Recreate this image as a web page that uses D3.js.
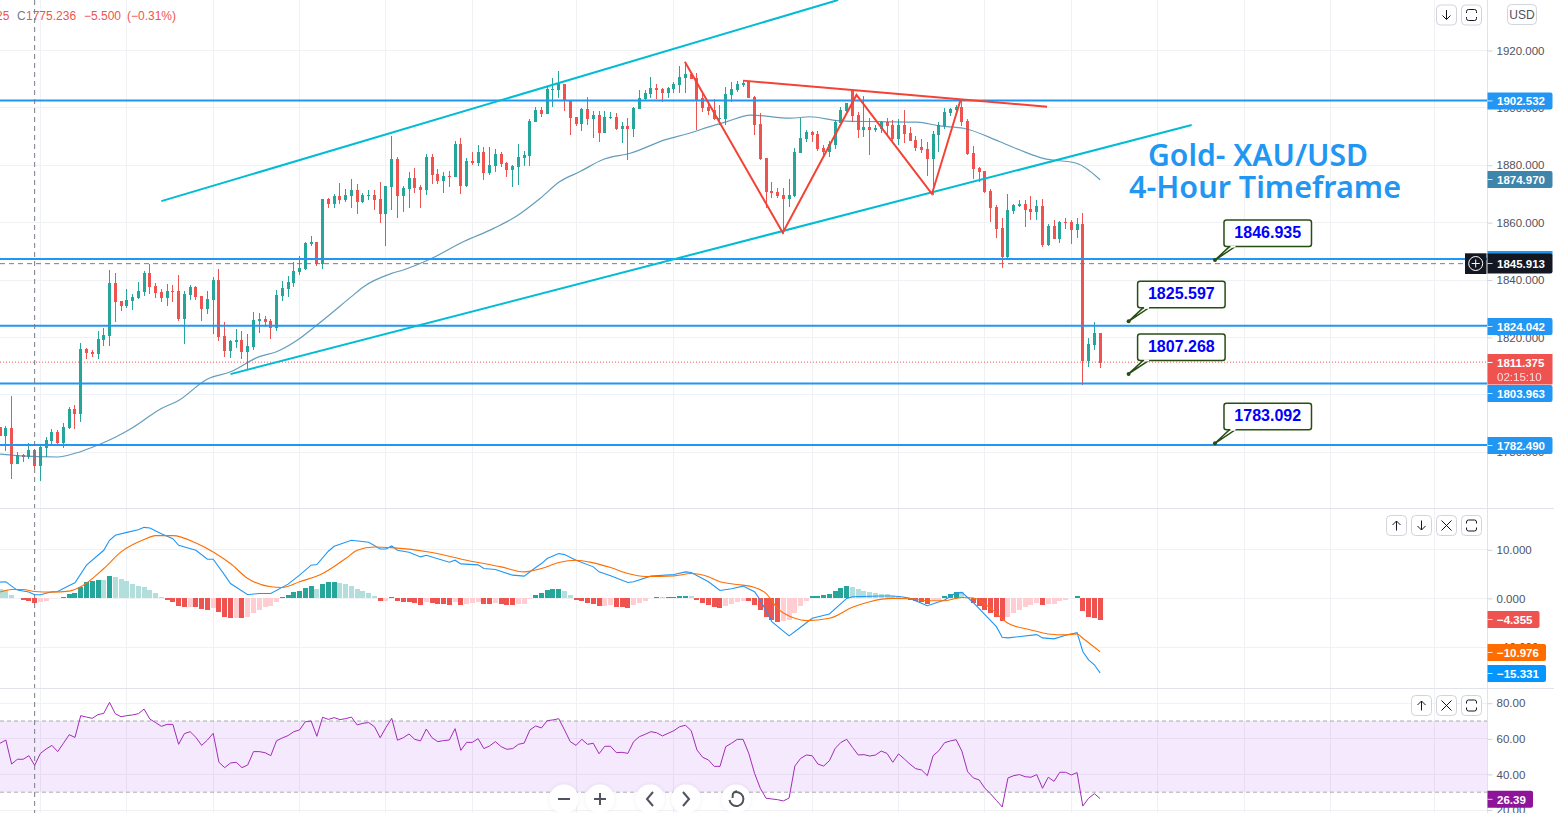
<!DOCTYPE html>
<html>
<head>
<meta charset="utf-8">
<title>Gold XAU/USD 4-Hour</title>
<script src="https://cdn.jsdelivr.net/npm/d3@7"></script>
<style>
  html, body { margin: 0; padding: 0; background: #fff; overflow: hidden; }
  svg { display: block; font-family: "Liberation Sans", Arial, sans-serif; }
</style>
</head>
<body>
<div id="chart"></div>
<script>
// Candles
const opens = [
  1788.9,1785.6,1788.4,1775.7,1778.9,1778.4,1780.8,1775.0,1781.5,1783.9,
  1787.0,1783.1,1788.4,1795.1,1793.3,1815.9,1814.8,1814.2,1819.1,1820.5,
  1839.0,1832.7,1830.9,1832.7,1833.7,1835.8,1842.5,1837.9,1835.8,1833.7,
  1836.2,1836.2,1826.4,1834.8,1837.6,1834.4,1829.9,1833.1,1840.0,1820.5,
  1815.3,1818.4,1819.1,1814.9,1816.7,1825.7,1826.4,1825.7,1823.3,1834.4,
  1836.9,1839.0,1842.8,1843.9,1852.6,1853.3,1845.6,1868.3,1866.5,1869.3,
  1867.9,1869.3,1871.4,1867.2,1869.4,1869.6,1868.3,1863.0,1872.4,1882.2,
  1869.3,1871.7,1875.6,1872.4,1871.4,1882.9,1877.0,1874.5,1876.3,1875.9,
  1887.4,1872.8,1881.5,1880.8,1884.6,1877.3,1879.7,1883.9,1880.8,1878.4,
  1879.4,1882.5,1883.2,1895.1,1899.3,1897.9,1906.2,1906.2,1908.3,1902.8,
  1896.8,1894.4,1899.6,1896.1,1897.5,1891.3,1896.5,1896.8,1892.7,1893.7,
  1892.7,1899.6,1903.1,1904.9,1906.9,1906.6,1905.2,1906.6,1908.0,1910.4,
  1911.8,1910.4,1903.5,1900.3,1899.3,1896.1,1896.1,1904.5,1906.2,1908.0,
  1909.0,1903.8,1894.4,1882.5,1871.0,1870.7,1869.6,1868.2,1869.3,1884.3,
  1889.2,1891.6,1890.9,1886.0,1884.6,1887.1,1894.7,1898.9,1906.2,1897.5,
  1892.3,1893.3,1892.3,1892.6,1895.1,1894.0,1889.2,1894.0,1891.2,1888.8,
  1886.4,1885.7,1882.2,1890.5,1893.7,1898.2,1899.3,1900.3,1895.4,1884.3,
  1879.0,1878.0,1871.0,1865.4,1858.1,1848.0,1864.1,1865.8,1866.5,1864.8,
  1863.7,1865.8,1852.2,1858.8,1854.3,1860.2,1860.2,1857.4,1859.5,1811.8,
  1817.4,1821.5
];
const closes = [
  1785.6,1788.4,1775.7,1778.9,1778.4,1780.8,1775.0,1781.9,1784.3,1787.0,
  1783.1,1788.8,1795.1,1793.3,1816.0,1814.7,1814.2,1819.5,1820.9,1839.0,
  1832.4,1830.9,1833.1,1834.1,1836.2,1842.5,1837.6,1835.5,1833.7,1836.2,
  1836.0,1826.4,1835.1,1837.6,1834.1,1829.9,1833.4,1840.0,1820.2,1815.3,
  1818.8,1819.1,1814.9,1817.0,1826.1,1826.4,1825.4,1823.3,1834.8,1837.2,
  1839.3,1843.2,1844.2,1852.9,1853.3,1845.6,1868.3,1866.5,1869.3,1867.9,
  1869.6,1871.4,1867.2,1869.6,1869.6,1867.9,1863.0,1872.8,1882.2,1869.3,
  1872.1,1875.6,1872.1,1871.4,1882.9,1876.6,1874.5,1876.3,1876.0,1887.4,
  1872.8,1881.5,1880.8,1884.6,1877.3,1880.1,1883.9,1880.4,1878.4,1879.7,
  1882.9,1883.6,1895.4,1899.3,1897.9,1906.6,1906.6,1908.7,1902.4,1896.5,
  1894.4,1899.6,1896.1,1897.5,1891.3,1896.8,1896.8,1892.7,1893.7,1892.7,
  1900.0,1903.5,1905.2,1906.9,1906.2,1905.2,1906.9,1908.3,1910.8,1911.8,
  1910.1,1902.8,1900.0,1898.9,1896.1,1896.5,1904.9,1906.6,1908.3,1908.7,
  1903.5,1894.0,1882.2,1870.7,1870.3,1869.3,1868.2,1869.6,1884.6,1889.5,
  1891.6,1890.5,1885.7,1884.6,1887.4,1895.1,1899.3,1901.7,1897.2,1892.3,
  1893.3,1892.3,1893.0,1895.1,1893.7,1889.2,1894.0,1890.9,1888.5,1886.0,
  1885.3,1882.2,1890.9,1894.0,1898.6,1899.6,1900.3,1895.1,1883.9,1878.7,
  1877.6,1870.7,1865.1,1857.8,1848.0,1864.4,1866.1,1866.5,1864.4,1863.7,
  1865.8,1852.2,1858.8,1854.3,1860.2,1859.9,1857.4,1859.5,1811.8,1817.7,
  1821.5,1811.1
];
const highs = [
  1788.9,1789.1,1799.4,1780.1,1779.4,1783.1,1781.0,1782.2,1785.2,1788.0,
  1787.7,1790.1,1795.9,1796.5,1818.1,1816.2,1815.6,1822.2,1823.3,1843.5,
  1842.5,1832.7,1836.9,1835.1,1839.3,1843.2,1845.6,1839.0,1836.9,1838.6,
  1838.3,1841.8,1836.2,1838.3,1837.9,1834.4,1836.2,1841.1,1843.9,1825.4,
  1819.1,1822.9,1822.2,1821.2,1828.9,1828.5,1827.5,1826.4,1836.5,1839.7,
  1841.4,1846.3,1848.4,1853.3,1855.4,1853.3,1868.3,1868.6,1870.0,1873.8,
  1871.7,1875.2,1873.5,1870.3,1871.4,1871.4,1874.2,1872.8,1890.2,1882.9,
  1872.8,1877.7,1879.1,1873.1,1883.9,1883.9,1878.7,1877.7,1878.0,1888.5,
  1889.5,1882.5,1884.6,1887.1,1886.4,1886.4,1885.7,1884.6,1881.1,1880.1,
  1887.4,1885.0,1896.1,1900.3,1900.3,1907.6,1910.4,1912.9,1908.3,1902.8,
  1896.8,1900.0,1903.8,1898.9,1898.9,1898.9,1898.6,1898.2,1895.1,1896.5,
  1900.3,1906.2,1906.2,1910.8,1908.3,1906.9,1907.3,1909.0,1914.6,1915.7,
  1912.2,1912.2,1905.2,1902.8,1903.1,1901.0,1907.3,1909.0,1909.4,1909.7,
  1909.0,1904.2,1898.2,1882.5,1874.2,1872.1,1872.1,1875.2,1886.0,1896.5,
  1892.3,1891.9,1891.9,1887.1,1888.5,1895.8,1900.3,1901.7,1906.2,1898.6,
  1904.1,1896.5,1894.0,1895.4,1896.5,1895.8,1896.1,1899.3,1893.3,1890.2,
  1889.2,1888.1,1891.9,1895.1,1900.0,1900.0,1901.0,1902.7,1896.1,1886.7,
  1879.4,1878.0,1871.7,1866.1,1861.6,1870.0,1866.5,1867.9,1867.9,1869.3,
  1867.9,1868.2,1859.5,1860.9,1860.6,1861.6,1860.9,1861.6,1863.4,1819.8,
  1825.4,1821.5
];
const lows = [
  1785.6,1780.5,1770.7,1775.7,1776.4,1777.7,1774.5,1770.1,1778.4,1782.9,
  1782.9,1781.6,1788.1,1788.1,1790.6,1812.5,1813.2,1812.5,1817.0,1817.0,
  1825.4,1829.2,1830.3,1829.6,1833.4,1834.4,1835.1,1833.7,1832.4,1830.9,
  1832.4,1825.7,1817.7,1833.1,1833.1,1825.7,1828.2,1821.2,1818.8,1813.2,
  1812.8,1816.3,1812.5,1809.0,1815.6,1821.6,1823.6,1819.5,1822.2,1832.7,
  1834.1,1837.6,1841.8,1843.5,1851.9,1844.9,1843.9,1865.1,1865.1,1866.5,
  1867.2,1865.1,1863.0,1866.9,1867.9,1864.4,1859.9,1851.9,1864.4,1861.6,
  1863.7,1865.1,1870.3,1865.1,1869.6,1873.5,1873.5,1870.3,1872.4,1875.9,
  1870.0,1872.4,1880.1,1879.7,1874.9,1876.6,1877.7,1879.4,1875.9,1872.4,
  1873.1,1879.7,1879.7,1895.1,1896.8,1897.9,1900.3,1903.5,1898.9,1890.6,
  1893.7,1892.0,1894.0,1889.5,1888.1,1891.3,1896.1,1892.3,1887.8,1881.8,
  1889.9,1899.6,1902.4,1903.5,1903.1,1902.1,1903.5,1905.2,1905.2,1905.2,
  1910.1,1892.3,1898.6,1897.5,1895.8,1894.0,1894.0,1902.1,1905.5,1907.3,
  1903.5,1890.6,1881.8,1865.1,1868.6,1868.6,1856.0,1865.4,1868.9,1884.3,
  1888.1,1888.1,1885.0,1882.5,1882.9,1885.7,1894.7,1898.2,1895.1,1889.5,
  1889.8,1883.6,1891.6,1891.2,1890.5,1888.5,1887.1,1887.8,1888.5,1885.0,
  1884.3,1876.3,1869.6,1884.6,1892.6,1897.2,1898.9,1893.7,1883.6,1875.2,
  1874.2,1870.3,1860.2,1854.6,1844.2,1847.7,1863.0,1865.4,1858.5,1860.9,
  1860.9,1851.5,1851.9,1854.3,1852.9,1857.8,1852.6,1854.6,1803.4,1809.7,
  1815.6,1809.3
];

// Moving average, [candle, price] at the bends of the line
const maPoints = [
  [0,1779.3],[3.5,1778.7],[10,1778.3],[13,1779.6],[17,1782.5],[20,1785.2],[23,1788.5],[28,1795.2],
  [31,1798],[36,1805.5],[40,1808],[45,1813.3],[48,1815],[51.5,1818.9],[55,1824.3],[61,1834.2],
  [63,1837.5],[68,1842.3],[70,1843.5],[74.7,1847.3],[80.5,1853.4],[85.7,1858],[89.7,1862.3],
  [93.8,1868.5],[97.2,1874.3],[100.7,1877.8],[104.8,1882.1],[109.4,1884.2],[115.7,1889],
  [119.2,1890.9],[123.8,1893.8],[126.2,1895.2],[130.3,1897.5],[137.2,1896.4],[140.6,1896.9],
  [145.9,1895.5],[152.8,1895.2],[159.2,1895],[163.2,1893.7],[167.3,1892.9],[173.6,1888.2],
  [178.2,1884.4],[181.1,1882.4],[186.9,1880.7],[191,1874.97]
];

// MACD histogram, one value per candle
const macdHist = [
  1.84,1.71,0.68,0.07,-0.34,-0.55,-0.89,-0.68,-0.48,0.07,
  0.03,0.27,0.89,1.09,2.39,3.35,3.55,3.76,3.72,4.58,
  4.37,3.96,3.55,2.94,2.53,2.32,1.71,1.09,0.27,-0.34,
  -0.75,-1.57,-1.78,-1.71,-1.78,-2.19,-2.39,-1.98,-2.80,-3.83,
  -4.03,-3.96,-4.03,-3.83,-3.01,-2.39,-1.78,-1.57,-0.75,0.27,
  0.68,1.30,1.50,2.12,2.53,1.91,2.94,3.35,3.42,3.14,
  2.94,2.53,1.91,1.50,1.09,0.48,-0.55,-0.48,0.27,-0.55,
  -0.75,-0.82,-0.96,-1.37,-0.75,-0.96,-1.16,-1.23,-1.37,-0.75,
  -1.37,-1.16,-0.96,-0.75,-1.16,-1.23,-0.96,-1.16,-1.37,-1.43,
  -1.23,-1.16,-0.07,0.68,1.09,1.71,1.91,1.98,1.50,0.68,
  -0.34,-0.55,-0.89,-1.16,-1.57,-1.50,-1.43,-1.78,-1.85,-1.98,
  -1.37,-0.96,-0.55,0.03,0.27,0.24,0.27,0.30,0.48,0.55,
  0.48,-0.34,-0.96,-1.37,-1.78,-1.98,-1.57,-1.16,-0.75,-0.55,
  -0.62,-1.37,-2.39,-3.83,-4.45,-4.86,-4.66,-4.45,-3.01,-1.57,
  -0.55,0.48,0.55,0.68,0.89,1.50,2.12,2.53,2.32,1.91,
  1.50,1.30,1.09,0.96,0.89,0.48,0.20,0.07,-0.34,-0.55,
  -0.75,-1.23,-0.41,-0.34,0.48,0.89,1.30,1.23,0.20,-0.96,
  -1.57,-2.39,-3.01,-3.83,-4.66,-3.83,-3.01,-2.39,-1.78,-1.37,
  -0.96,-1.37,-1.23,-1.16,-0.55,-0.34,0.02,0.48,-2.60,-3.83,
  -4.03,-4.355
];

const macdLine = [
  [0,3.35],[1,3.42],[2,2.53],[3,1.71],[5,1.30],[6,0.75],[7,0.75],[9,1.37],[10,1.43],[12,2.66],[13,3.21],
  [15,6.83],[18,9.90],[19,11.95],[20,12.98],[22,13.59],[24,14.14],[25,14.62],[26,14.48],[28,13.32],
  [30,12.30],[31,10.93],[34,9.90],[36,8.06],[37,8.06],[39,4.78],[40,3.07],[43,0.75],[45,1.02],[47,1.02],
  [50,2.94],[52,4.78],[54,6.83],[55,6.97],[57,9.70],[58,10.72],[61,11.95],[64,11.54],[66,10.18],[67,10.18],
  [68,10.79],[69,9.90],[71,9.49],[73,8.54],[74,8.88],[78,7.45],[79,7.86],[80,7.10],[83,6.90],[84,6.15],
  [86,5.94],[89,4.78],[91,4.58],[93,6.35],[94,7.17],[95,8.20],[97,9.22],[98,9.02],[100,7.86],[103,6.49],
  [104,5.46],[106,4.64],[109,3.28],[110,3.42],[113,4.58],[117,4.92],[119,5.46],[120,5.33],[123,3.42],
  [125,1.64],[127,1.98],[129,2.53],[131,1.37],[132,-0.34],[134,-4.78],[137,-7.72],[139,-5.94],[141,-4.10],
  [144,-3.21],[147,0],[148,0.34],[153,0.48],[155,0.48],[156.5,0.34],[158,0],[161,-1.50],[164,-0.34],
  [166,1.16],[167,1.23],[169,-0.89],[173,-5.81],[174,-7.99],[175,-8.13],[180,-7.45],[181,-8.13],[183,-8.33],
  [185,-7.58],[187,-7.04],[188,-10.93],[189,-12.64],[190,-13.66],[191,-15.331]
];
const signalLine = [
  [0,1.30],[2,1.84],[4,1.84],[6,1.43],[9,1.30],[12,1.50],[14,2.39],[18,6.15],[21,9.56],[25,12.1],[27,12.91],
  [30,12.91],[34,11.4],[37,9.56],[40,7.17],[43,4.10],[47,2.39],[49,2.25],[52,3.42],[56,5.12],[60,8.20],
  [62,9.90],[65,10.59],[68,10.45],[75,9.43],[81,7.86],[87,6.49],[91,5.46],[94,6.15],[97,7.38],[100,7.86],
  [103,7.31],[106,6.35],[109,5.12],[112,4.51],[117,4.64],[120,5.12],[123,4.44],[125,3.42],[128,2.87],
  [131,2.25],[133,1.02],[135,-2.05],[138,-4.10],[140,-4.58],[144,-4.10],[148,-1.84],[151,-0.68],[155,0],
  [158,-0.07],[161,-0.48],[164,-0.48],[167,0.20],[169,0.07],[172,-2.05],[175,-5.12],[179,-6.49],[182,-7.31],
  [185,-7.51],[187,-7.31],[188,-8.2],[191,-10.976]
];

// RSI, one value per candle
const rsiValues = [
  57.5,59.3,45.8,48.5,48.5,50.5,45.1,51.8,54.3,56.3,
  52.8,57.5,62.3,60.8,73.0,72.2,71.5,73.6,74.3,80.5,
  74.1,72.4,73.0,73.4,74.1,76.7,71.1,69.1,67.0,68.1,
  68.1,56.9,62.9,64.0,60.8,56.3,59.3,63.1,46.8,43.8,
  46.4,46.8,43.8,45.3,52.8,52.8,52.2,50.5,58.9,60.5,
  61.8,64.0,65.0,69.6,70.0,61.4,72.1,70.9,71.9,70.8,
  71.3,72.2,67.8,68.7,69.1,66.8,60.6,66.4,71.5,59.2,
  60.6,62.7,59.7,58.8,65.5,60.6,58.4,59.0,59.3,65.7,
  53.5,58.0,58.0,60.1,54.5,56.0,58.4,55.6,54.1,54.5,
  56.9,57.6,65.0,67.2,66.1,70.2,70.6,71.3,65.0,58.4,
  56.3,59.7,56.9,57.5,51.6,55.8,55.8,52.2,52.4,51.8,
  58.4,61.2,62.5,64.0,63.4,61.6,63.1,64.6,66.8,67.6,
  64.6,53.7,49.6,48.1,44.5,44.5,55.6,57.5,59.7,59.7,
  51.8,40.6,32.2,26.6,26.2,25.8,25.1,26.7,44.7,49.0,
  50.9,50.5,45.8,44.7,47.7,54.6,58.0,59.7,55.2,50.9,
  51.1,50.3,50.9,53.1,51.8,46.8,51.5,48.7,45.7,43.2,
  42.5,39.3,50.5,53.3,57.8,58.8,59.5,53.1,41.5,38.0,
  36.9,32.2,29.0,25.4,21.7,38.0,39.3,39.9,38.7,38.4,
  39.9,32.2,38.4,36.1,41.2,41.2,39.7,41.0,22.2,26.6,
  29.2,26.39
];

// Drawings on the price pane, [candle, price]
const channelUpper = [[28,1867.5],[145.5,1937.6]];
const channelLower = [[40,1807.2],[206.9,1894]];
const zigzag = [[118.9,1916.1],[135.9,1856.5],[148.7,1904.5],[161.8,1870],[166.8,1903]];
const topLine = [[129,1909.5],[181.8,1900.4]];
const levels = [1902.532,1847.3,1824.042,1803.963,1782.49];
const calloutPrices = [1846.935,1825.597,1807.268,1783.092];
const calloutCandles = [211,196,196,211];

const priceTicks = [1920,1900,1880,1860,1840,1820,1800,1780];
const macdTicks = [10,0,-10];
const rsiTicks = [80,60,40,20];
const gridCandles = [7,22,37,52,67,82,100,117,141,156,171,186,201,216,231,249];

const lastPrice = 1811.375;
const crossPrice = 1845.7;
const crossCandle = 6;

const width = 1554, height = 813, axisX = 1487.5;
const up = "#26a69a", down = "#ef5350", blue = "#2196f3", gridColor = "#f0f1f5", borderColor = "#e0e3eb";

const x = d3.scaleLinear().domain([0, 191]).range([0.1, 1100.1]);
const yPrice = d3.scaleLinear().domain([1920, 1782.49]).range([50.5, 445]);
const yMacd = d3.scaleLinear().domain([10, -10]).range([549.8, 647]);
const yRsi = d3.scaleLinear().domain([70, 30]).range([721, 792.2]);

const svg = d3.select("#chart").append("svg").attr("width", width).attr("height", height);

// Grid
svg.append("g").attr("shape-rendering", "crispEdges")
  .selectAll("line").data(gridCandles).join("line")
  .attr("x1", d => x(d)).attr("x2", d => x(d)).attr("y1", 0).attr("y2", height)
  .attr("stroke", gridColor);

function hGrid(ticks, y) {
  svg.append("g").attr("shape-rendering", "crispEdges")
    .selectAll("line").data(ticks).join("line")
    .attr("x1", 0).attr("x2", axisX).attr("y1", d => y(d)).attr("y2", d => y(d))
    .attr("stroke", gridColor);
}
hGrid(priceTicks, yPrice);
hGrid(macdTicks, yMacd);
hGrid(rsiTicks, yRsi);

// RSI band sits under the line
svg.append("rect")
  .attr("x", 0).attr("width", axisX)
  .attr("y", yRsi(70)).attr("height", yRsi(30) - yRsi(70))
  .attr("fill", "#9c27f0").attr("opacity", 0.1);
svg.append("g").selectAll("line").data([70, 30]).join("line")
  .attr("x1", 0).attr("x2", axisX).attr("y1", d => yRsi(d)).attr("y2", d => yRsi(d))
  .attr("stroke", "#787b86").attr("stroke-dasharray", "4,3").attr("opacity", 0.6);

// Candles
const candles = svg.append("g").attr("shape-rendering", "crispEdges")
  .selectAll("g").data(d3.range(opens.length)).join("g")
  .attr("fill", i => closes[i] >= opens[i] ? up : down);
candles.append("rect")
  .attr("x", i => Math.floor(x(i)))
  .attr("width", 1)
  .attr("y", i => yPrice(highs[i]))
  .attr("height", i => yPrice(lows[i]) - yPrice(highs[i]));
candles.append("rect")
  .attr("x", i => Math.floor(x(i)) - 1)
  .attr("width", 3)
  .attr("y", i => yPrice(Math.max(opens[i], closes[i])))
  .attr("height", i => Math.max(1, Math.abs(yPrice(opens[i]) - yPrice(closes[i]))));

const priceLine = d3.line().x(d => x(d[0])).y(d => yPrice(d[1]));

svg.append("path").attr("d", priceLine.curve(d3.curveMonotoneX)(maPoints))
  .attr("fill", "none").attr("stroke", "#3d85ab").attr("stroke-width", 1.2).attr("opacity", 0.8);
priceLine.curve(d3.curveLinear);

// Horizontal levels
svg.append("g").selectAll("line").data(levels).join("line")
  .attr("x1", 0).attr("x2", axisX).attr("y1", d => yPrice(d)).attr("y2", d => yPrice(d))
  .attr("stroke", blue).attr("stroke-width", 2);

// Last price and crosshair
svg.append("line")
  .attr("x1", 0).attr("x2", axisX).attr("y1", yPrice(lastPrice)).attr("y2", yPrice(lastPrice))
  .attr("stroke", down).attr("stroke-dasharray", "1,2");
svg.append("line")
  .attr("x1", 0).attr("x2", 1465).attr("y1", yPrice(crossPrice)).attr("y2", yPrice(crossPrice))
  .attr("stroke", "#787b86").attr("stroke-dasharray", "5,4");
svg.append("line")
  .attr("x1", x(crossCandle)).attr("x2", x(crossCandle)).attr("y1", 0).attr("y2", height)
  .attr("stroke", "#787b86").attr("stroke-dasharray", "5,4");

// Trend drawings
[channelUpper, channelLower].forEach(pts => {
  svg.append("path").attr("d", priceLine(pts))
    .attr("fill", "none").attr("stroke", "#00bcd4").attr("stroke-width", 2);
});
[zigzag, topLine].forEach(pts => {
  svg.append("path").attr("d", priceLine(pts))
    .attr("fill", "none").attr("stroke", "#f44336").attr("stroke-width", 2);
});

// Title
const titleFont = '"Noto Sans", sans-serif';
svg.append("text").attr("x", 1148).attr("y", 166).text("Gold- XAU/USD")
  .attr("font-family", titleFont).attr("font-size", 31).attr("font-weight", 600).attr("fill", blue)
  .attr("textLength", 220).attr("lengthAdjust", "spacingAndGlyphs");
svg.append("text").attr("x", 1129).attr("y", 198).text("4-Hour Timeframe")
  .attr("font-family", titleFont).attr("font-size", 31).attr("font-weight", 600).attr("fill", blue)
  .attr("textLength", 272).attr("lengthAdjust", "spacingAndGlyphs");

// Callouts
calloutPrices.forEach((p, k) => {
  const ax = x(calloutCandles[k]) - 0.3, ay = yPrice(p);
  const g = svg.append("g");
  g.append("path")
    .attr("d", `M${ax},${ay}L${ax + 15},${ay - 14}L${ax + 21},${ay - 14}Z`)
    .attr("fill", "#fff").attr("stroke", "#274e13").attr("stroke-width", 1.5);
  g.append("circle").attr("cx", ax).attr("cy", ay).attr("r", 2).attr("fill", "#274e13");
  g.append("rect")
    .attr("x", ax + 9).attr("y", ay - 40).attr("width", 87.5).attr("height", 26.5).attr("rx", 2.5)
    .attr("fill", "#fff").attr("stroke", "#274e13").attr("stroke-width", 1.5);
  g.append("path")
    .attr("d", `M${ax + 15.5},${ay - 13.5}L${ax + 20.5},${ay - 13.5}`)
    .attr("stroke", "#fff").attr("stroke-width", 2);
  g.append("text")
    .attr("x", ax + 9 + 43.75).attr("y", ay - 22).attr("text-anchor", "middle")
    .attr("font-size", 16).attr("font-weight", 700).attr("fill", "#0000ff")
    .text(p.toFixed(3));
});

// MACD
const histColor = (v, i) => {
  const rising = i === 0 ? false : v > macdHist[i - 1];
  if (v >= 0) return rising ? up : "#b2dfdb";
  return rising ? "#ffcdd2" : down;
};
svg.append("g").attr("shape-rendering", "crispEdges")
  .selectAll("rect").data(macdHist).join("rect")
  .attr("x", (d, i) => Math.floor(x(i)) - 2)
  .attr("width", 5)
  .attr("y", d => Math.min(yMacd(d), yMacd(0)))
  .attr("height", d => Math.abs(yMacd(d) - yMacd(0)))
  .attr("fill", histColor);

const macdPath = d3.line().x(d => x(d[0])).y(d => yMacd(d[1]));
svg.append("path").attr("d", macdPath(macdLine))
  .attr("fill", "none").attr("stroke", "#2196f3").attr("stroke-width", 1.1);
svg.append("path").attr("d", macdPath.curve(d3.curveMonotoneX)(signalLine))
  .attr("fill", "none").attr("stroke", "#ff6d00").attr("stroke-width", 1.1);

// RSI
svg.append("path")
  .attr("d", d3.line().x((d, i) => x(i)).y(d => yRsi(d))(rsiValues))
  .attr("fill", "none").attr("stroke", "#a32cb8").attr("stroke-width", 1);

// Pane borders
svg.append("g").attr("shape-rendering", "crispEdges")
  .selectAll("line").data([508.5, 688.5]).join("line")
  .attr("x1", 0).attr("x2", width).attr("y1", d => d).attr("y2", d => d)
  .attr("stroke", borderColor);
svg.append("line").attr("x1", axisX).attr("x2", axisX).attr("y1", 0).attr("y2", height)
  .attr("stroke", borderColor).attr("shape-rendering", "crispEdges");

// Axes
function drawAxis(y, ticks, fmt) {
  const g = svg.append("g").attr("transform", `translate(${axisX},0)`)
    .call(d3.axisRight(y).tickValues(ticks).tickFormat(fmt).tickSize(5).tickPadding(4));
  g.select(".domain").remove();
  g.selectAll(".tick line").attr("stroke", "#d1d4dc");
  g.selectAll(".tick text").attr("fill", "#50535e")
    .attr("font-family", '"Liberation Sans", Arial, sans-serif').attr("font-size", 11.5);
}
drawAxis(yPrice, priceTicks, d3.format(".3f"));
drawAxis(yMacd, macdTicks, d => d3.format(".3f")(d).replace("-", "\u2212"));
drawAxis(yRsi, rsiTicks, d3.format(".2f"));

// Value tags on the axis
function tag(text, cy, color, w = 65, h = 17) {
  const g = svg.append("g");
  g.append("path")
    .attr("d", `M${axisX},${cy - h / 2}h${w - 2}q2,0 2,2v${h - 4}q0,2 -2,2h${-(w - 2)}Z`)
    .attr("fill", color);
  g.append("line").attr("x1", axisX).attr("x2", axisX + 5).attr("y1", cy).attr("y2", cy)
    .attr("stroke", "#fff").attr("opacity", 0.8);
  g.append("text").attr("x", axisX + 9.5).attr("y", cy + 4.2)
    .attr("font-size", 11.5).attr("font-weight", 700).attr("fill", "#fff").text(text);
}
tag("1902.532", yPrice(1902.532) + 0.3, blue);
tag("1874.970", 179.5, "#3d85ab");
tag("1824.042", yPrice(1824.042) + 0.7, blue);
tag("1782.490", yPrice(1782.49) + 0.5, blue);
tag("1803.963", 393.5, blue);

// Blue sliver of the level hidden by the crosshair tag
svg.append("rect").attr("x", axisX).attr("y", 251).attr("width", 65).attr("height", 4).attr("fill", blue);
svg.append("rect").attr("x", 1465).attr("y", 253.3).attr("width", 21.5).attr("height", 20.7).attr("fill", "#131722");
tag("1845.913", 263.5, "#131722", 65, 20);
svg.append("circle").attr("cx", 1475.7).attr("cy", 263.5).attr("r", 7).attr("fill", "none").attr("stroke", "#fff");
svg.append("path").attr("d", "M1471.7,263.5h8M1475.7,259.5v8").attr("stroke", "#fff");

// Last price tag carries the countdown
const lastGroup = svg.append("g");
lastGroup.append("rect").attr("x", axisX).attr("y", 354).attr("width", 65).attr("height", 30.5).attr("fill", down);
lastGroup.append("line").attr("x1", axisX).attr("x2", axisX + 5).attr("y1", 362.5).attr("y2", 362.5).attr("stroke", "#fff");
lastGroup.append("text").attr("x", axisX + 9.5).attr("y", 366.7)
  .attr("font-size", 11.5).attr("font-weight", 700).attr("fill", "#fff").text("1811.375");
lastGroup.append("text").attr("x", axisX + 9.5).attr("y", 381)
  .attr("font-size", 11.5).attr("fill", "#fff").attr("opacity", 0.8).text("02:15:10");

tag("\u22124.355", 619.5, down, 52);
tag("\u221210.976", 652.5, "#ff6d00", 58.5);
tag("\u221215.331", 673.5, "#0496ff", 58.5);
tag("26.39", 799.3, "#8e1599", 45.5);

// Header
const header = svg.append("text").attr("y", 20).attr("font-size", 12).attr("fill", down);
header.append("tspan").attr("x", -4).text("25");
header.append("tspan").attr("x", 17).attr("fill", "#787b86").text("C");
header.append("tspan").attr("x", 26).text("1775.236");
header.append("tspan").attr("x", 84).text("\u22125.500");
header.append("tspan").attr("x", 127).text("(\u22120.31%)");

// Pane buttons
function button(bx, by, glyph) {
  const g = svg.append("g").attr("transform", `translate(${bx},${by})`);
  g.append("rect").attr("x", 0.5).attr("y", 0.5).attr("width", 20).attr("height", 20).attr("rx", 4)
    .attr("fill", "#fff").attr("stroke", "#d1d4dc");
  g.append("path").attr("d", glyph).attr("fill", "none").attr("stroke", "#131722").attr("stroke-width", 1);
}
const glyphs = {
  up: "M10.5,15.5V6M6.5,10L10.5,6L14.5,10",
  down: "M10.5,5.5V15M6.5,11L10.5,15L14.5,11",
  close: "M5.5,5.5L15.5,15.5M15.5,5.5L5.5,15.5",
  full: "M5.5,8V7q0,-2 2,-2h6q2,0 2,2v1M5.5,13v1q0,2 2,2h6q2,0 2,-2v-1M5,8h1M15,8h1M5,13h1M15,13h1"
};
button(1436, 4.5, glyphs.down);
button(1461, 4.5, glyphs.full);
button(1386, 515, glyphs.up);
button(1411, 515, glyphs.down);
button(1436, 515, glyphs.close);
button(1461, 515, glyphs.full);
button(1411, 695, glyphs.up);
button(1436, 695, glyphs.close);
button(1461, 695, glyphs.full);

svg.append("rect").attr("x", 1507.5).attr("y", 4.5).attr("width", 29).attr("height", 20).attr("rx", 4)
  .attr("fill", "#fff").attr("stroke", "#d1d4dc");
svg.append("text").attr("x", 1522).attr("y", 18.5).attr("text-anchor", "middle")
  .attr("font-size", 12).attr("fill", "#50535e").text("USD");

// Navigation circles at the bottom
const defs = svg.append("defs");
const shadow = defs.append("filter").attr("id", "navShadow")
  .attr("x", "-30%").attr("y", "-30%").attr("width", "160%").attr("height", "160%");
shadow.append("feDropShadow").attr("dx", 0).attr("dy", 0).attr("stdDeviation", 2)
  .attr("flood-color", "#000").attr("flood-opacity", 0.08);
const navGlyphs = [
  [564, "M-6,0H6"],
  [600, "M-6,0H6M0,-6V6"],
  [650, "M3,-7L-3,0L3,7"],
  [686, "M-3,-7L3,0L-3,7"],
  [736, "M-3,-6A7,7 0 1 1 -6.5,1M-3,-6L-3.5,-1M-3,-6L1,-8"]
];
navGlyphs.forEach(([cx, d]) => {
  const g = svg.append("g").attr("transform", `translate(${cx},799)`);
  g.append("circle").attr("r", 14.5).attr("fill", "#fff").attr("filter", "url(#navShadow)");
  g.append("path").attr("d", d).attr("fill", "none").attr("stroke", "#50535e").attr("stroke-width", 2);
});
</script>
</body>
</html>
